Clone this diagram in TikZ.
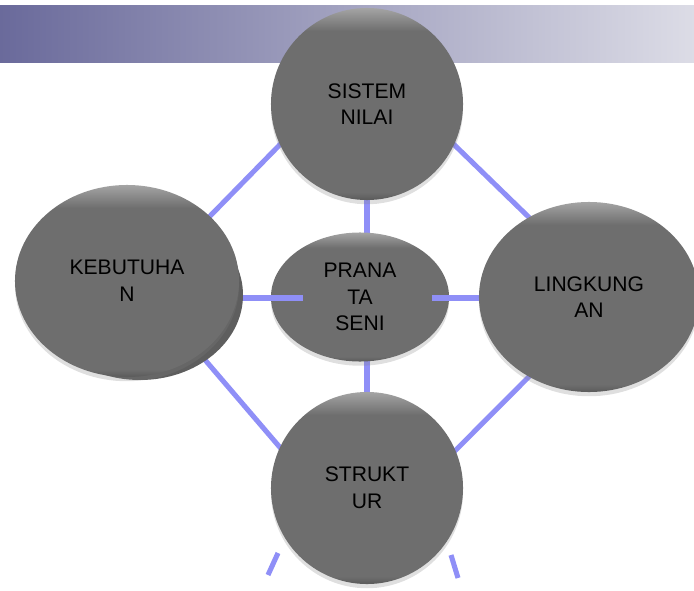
\documentclass[tikz,border=0pt]{standalone}
\usepackage{fontspec}
\setmainfont{Liberation Sans}
\usetikzlibrary{shapes.geometric,shadows,backgrounds}

\definecolor{bannerleft}{HTML}{6A6A9B}
\definecolor{bannerright}{HTML}{DCDCE6}
\definecolor{linkblue}{HTML}{8F8FF7}
\definecolor{orbdark}{HTML}{5A5A5A}
\definecolor{orbmid}{HTML}{6E6E6E}
\definecolor{orblight}{HTML}{A4A4A4}
% grey ball, light rim on top
\pgfdeclareverticalshading{orb}{100bp}{color(0bp)=(orbdark); color(25bp)=(orbdark); color(27bp)=(orbmid); color(69bp)=(orbmid); color(75bp)=(orblight); color(100bp)=(orblight)}

\tikzset{
	bubble/.style={ellipse, shading=orb, inner sep=0pt, outer sep=0pt, align=center,
		font=\fontsize{15}{19}\selectfont, text=black,
		drop shadow={shadow xshift=0pt, shadow yshift=-3pt, opacity=0.25}},
	link/.style={linkblue, line width=3.6pt}
}

\begin{document}
\begin{tikzpicture}[x=0.025cm, y=-0.025cm]
	\useasboundingbox (0,0) rectangle (694,590);
	% title band
	\shade[left color=bannerleft, right color=bannerright] (0,6) rectangle (694,63);
	% the four outer topics
	\fill[orbmid!85!black] (140,295) ellipse (103 and 85);
	\node[bubble, minimum width=5.6cm, minimum height=4.8cm] (kebutuhan) at (127,281) {KEBUTUHA\\N};
	\node[bubble, minimum width=5.5cm, minimum height=4.75cm] (lingkungan) at (589,297) {LINGKUNG\\AN};
	\node[bubble, minimum width=4.8cm, minimum height=4.8cm] (sistem) at (367,104) {SISTEM\\NILAI};
	\node[bubble, minimum width=4.8cm, minimum height=4.8cm] (struktur) at (367,488) {STRUKT\\UR};
	\begin{pgfonlayer}{background}
		% spine through the middle, hidden by the centre
		\draw[link] (sistem) -- (struktur);
		\node[bubble, minimum width=4.45cm, minimum height=3.225cm] (pranata) at (360,297) {PRANA\\TA\\SENI};
		\coordinate (pranataW) at (303,298);
		\coordinate (pranataE) at (432,298);
		\draw[link] (kebutuhan.center |- pranataW) -- (pranataW);
		\draw[link] (pranataE) -- (pranataE -| lingkungan.center);
		% the diamond
		\draw[link, shorten <=-4pt, shorten >=-4pt] (sistem.205) -- (kebutuhan.38);
		\draw[link, shorten <=-4pt, shorten >=-4pt] (sistem.-25) -- (lingkungan.127);
		\draw[link, shorten <=-4pt, shorten >=-4pt] (kebutuhan.-45) -- (struktur.155);
		\draw[link, shorten <=-4pt, shorten >=-4pt] (lingkungan.233) -- (struktur.23);
		% stubs below
		\coordinate (stubL1) at (268,575);
		\coordinate (stubL2) at (278,553);
		\coordinate (stubR1) at (451,555);
		\coordinate (stubR2) at (458,578);
		\draw[link] (stubL1) -- (stubL2);
		\draw[link] (stubR1) -- (stubR2);
	\end{pgfonlayer}
\end{tikzpicture}
\end{document}
